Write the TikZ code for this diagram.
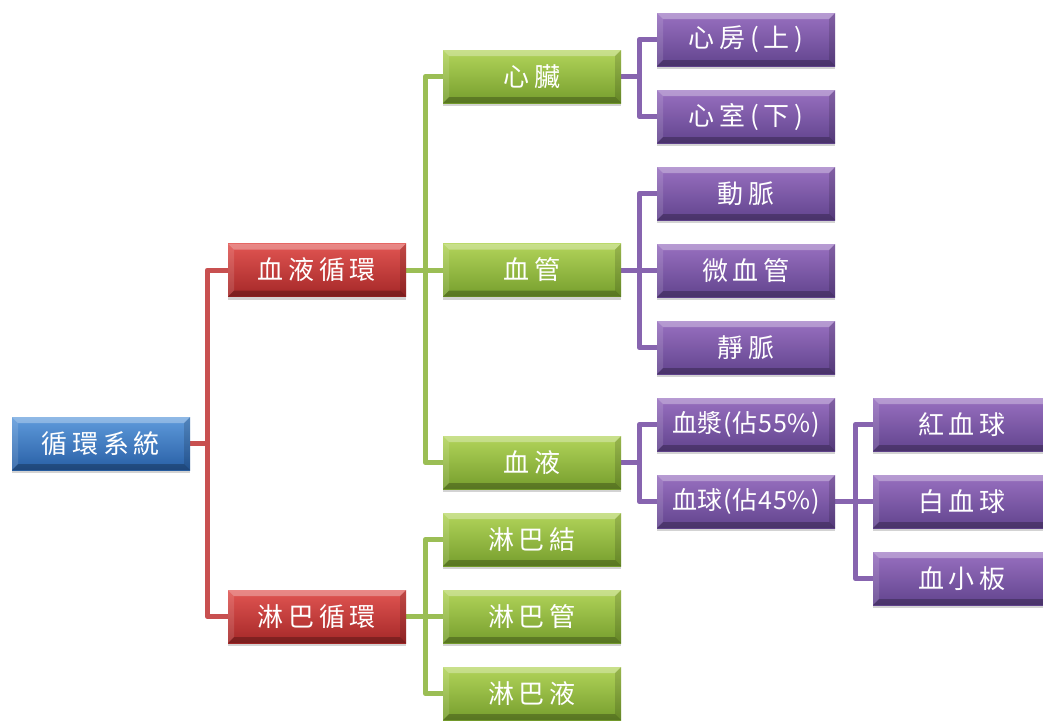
\documentclass[tikz,border=0pt]{standalone}
\usepackage{fontspec}
\newfontfamily\cjk[LetterSpace=18]{Noto Sans CJK TC}
\newfontfamily\cjkt[LetterSpace=3]{Noto Sans CJK TC}
\usetikzlibrary{shadows,backgrounds}
\definecolor{bluetop}{RGB}{95,155,220}
\definecolor{bluebot}{RGB}{40,95,165}
\definecolor{redtop}{RGB}{225,85,82}
\definecolor{redbot}{RGB}{165,40,40}
\definecolor{greentop}{RGB}{178,212,90}
\definecolor{greenbot}{RGB}{118,158,45}
\definecolor{purtop}{RGB}{152,112,192}
\definecolor{purbot}{RGB}{98,68,142}
\definecolor{redline}{RGB}{200,80,80}
\definecolor{greenline}{RGB}{155,190,85}
\definecolor{purline}{RGB}{135,100,175}
\newcommand\mybevel{%
  \fill[white,opacity=0.30] (path picture bounding box.north west) -- (path picture bounding box.north east)
     -- ([xshift=-6pt,yshift=-6pt]path picture bounding box.north east) -- ([xshift=6pt,yshift=-6pt]path picture bounding box.north west) -- cycle;
  \fill[white,opacity=0.12] (path picture bounding box.north west) -- ([xshift=6pt,yshift=-6pt]path picture bounding box.north west)
     -- ([xshift=6pt,yshift=6pt]path picture bounding box.south west) -- (path picture bounding box.south west) -- cycle;
  \fill[black,opacity=0.25] (path picture bounding box.south west) -- (path picture bounding box.south east)
     -- ([xshift=-6pt,yshift=6pt]path picture bounding box.south east) -- ([xshift=6pt,yshift=6pt]path picture bounding box.south west) -- cycle;
  \fill[black,opacity=0.14] (path picture bounding box.north east) -- ([xshift=-6pt,yshift=-6pt]path picture bounding box.north east)
     -- ([xshift=-6pt,yshift=6pt]path picture bounding box.south east) -- (path picture bounding box.south east) -- cycle;
}
\tikzset{
  box/.style={minimum width=178pt, minimum height=53pt, inner sep=0pt, text=white,
    font=\cjk\fontsize{26}{26}\selectfont,
    drop shadow={opacity=0.35,shadow xshift=0pt,shadow yshift=-3pt},
    path picture={\mybevel}},
  bluebox/.style={box, top color=bluetop, bottom color=bluebot},
  redbox/.style={box, top color=redtop, bottom color=redbot},
  greenbox/.style={box, top color=greentop, bottom color=greenbot},
  purbox/.style={box, top color=purtop, bottom color=purbot},
  tight/.style={font=\cjkt\fontsize{25}{25}\selectfont},
  conn/.style={line width=5pt, line join=round},
  redconn/.style={conn, draw=redline},
  greenconn/.style={conn, draw=greenline},
  purconn/.style={conn, draw=purline},
}
\begin{document}
\begin{tikzpicture}[x=1pt,y=-1pt]
\useasboundingbox (0,0) rectangle (1043,720);
% level 0
\node[bluebox] (root) at (101,443.5) {循環系統};
% level 1
\node[redbox] (blood) at (317,270) {血液循環};
\node[redbox] (lymph) at (317,616.5) {淋巴循環};
% level 2
\node[greenbox] (heart) at (532,76.5) {心臟};
\node[greenbox] (vessel) at (532,270) {血管};
\node[greenbox] (bl) at (532,462.5) {血液};
\node[greenbox] (node) at (532,539.5) {淋巴結};
\node[greenbox] (duct) at (532,616.5) {淋巴管};
\node[greenbox] (fluid) at (532,693.5) {淋巴液};
% level 3
\node[purbox] (atrium) at (746,39.5) {心房(上)};
\node[purbox] (ventr) at (746,116.5) {心室(下)};
\node[purbox] (artery) at (746,193.5) {動脈};
\node[purbox] (capil) at (746,270.5) {微血管};
\node[purbox] (vein) at (746,347.5) {靜脈};
\node[purbox,tight] (plasma) at (746,424.5) {血漿(佔55\%)};
\node[purbox,tight] (cells) at (746,501.5) {血球(佔45\%)};
% level 4
\node[purbox] (rbc) at (962,424.5) {紅血球};
\node[purbox] (wbc) at (962,501.5) {白血球};
\node[purbox] (plt) at (962,578.5) {血小板};
\begin{scope}[on background layer]
  \draw[redconn] (root.east) -- ++(17,0) coordinate (b0);
  \draw[redconn] (b0) |- (blood.west);
  \draw[redconn] (b0) |- (lymph.west);
  \draw[greenconn] (blood.east) -- ++(19,0) coordinate (b1);
  \draw[greenconn] (b1) |- (heart.west);
  \draw[greenconn] (b1) |- (vessel.west);
  \draw[greenconn] (b1) |- (bl.west);
  \draw[greenconn] (lymph.east) -- ++(19,0) coordinate (b2);
  \draw[greenconn] (b2) |- (node.west);
  \draw[greenconn] (b2) |- (duct.west);
  \draw[greenconn] (b2) |- (fluid.west);
  \draw[purconn] (heart.east) -- ++(18,0) coordinate (b3);
  \draw[purconn] (b3) |- (atrium.west);
  \draw[purconn] (b3) |- (ventr.west);
  \draw[purconn] (vessel.east) -- ++(18,0) coordinate (b4);
  \draw[purconn] (b4) |- (artery.west);
  \draw[purconn] (b4) |- (capil.west);
  \draw[purconn] (b4) |- (vein.west);
  \draw[purconn] (bl.east) -- ++(18,0) coordinate (b5);
  \draw[purconn] (b5) |- (plasma.west);
  \draw[purconn] (b5) |- (cells.west);
  \draw[purconn] (cells.east) -- ++(20,0) coordinate (b6);
  \draw[purconn] (b6) |- (rbc.west);
  \draw[purconn] (b6) |- (wbc.west);
  \draw[purconn] (b6) |- (plt.west);
\end{scope}
\end{tikzpicture}
\end{document}
